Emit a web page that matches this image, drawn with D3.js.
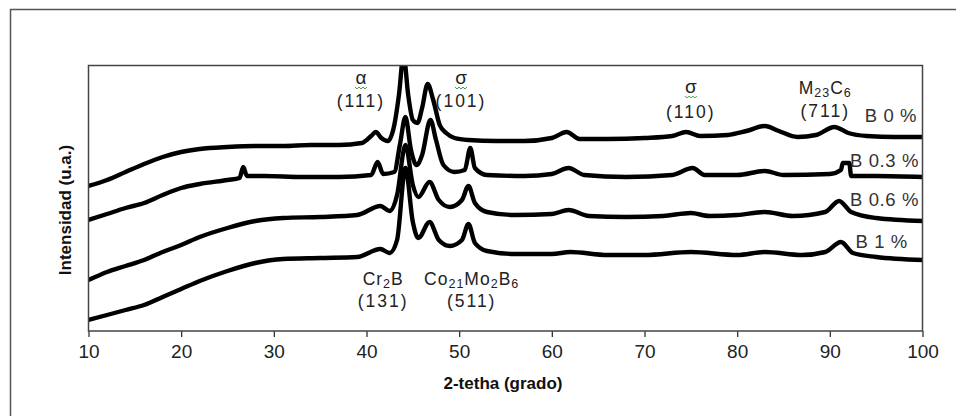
<!DOCTYPE html>
<html><head><meta charset="utf-8">
<script src="https://cdn.jsdelivr.net/npm/d3@7"></script>
<style>
body{margin:0;background:#fff;}
text{font-family:"Liberation Sans",Arial,sans-serif;}
</style></head>
<body><svg id="c" width="956" height="416"></svg>
<script>
// ---- data (2θ in degrees, intensity in arbitrary units) ----
const xTicks = [10,20,30,40,50,60,70,80,90,100];
const seriesNames = ["B 0 %","B 0.3 %","B 0.6 %","B 1 %"];
const b0 = [[10,145],[12,151],[14,159],[16,167],[18,174],[20,179],[22,182],[25,184],[28,185],[31,185],[34,186],[37,186],[39.5,188],[40.5,195],[41,199],[41.6,193],[42.3,190],[43,206],[43.5,236],[44,276],[44.5,236],[45,211],[45.5,208],[46,223],[46.6,247],[47.2,231],[47.9,206],[48.6,198],[49.5,193],[51,191],[54,190],[57,190],[60,193],[61.6,199],[63,192],[66,192],[70,193],[73,195],[74.5,199],[76,195],[79,196],[81,200],[83,205],[84.5,200],[86.5,194],[88.5,196],[90.5,204],[92,198],[94,195],[97,194],[100,194]];
const b03 = [[10,111],[12,117],[14,123],[16,128],[18,136],[20,143],[22,147],[25,151],[26.3,153],[26.7,164],[27.1,155],[29,155],[33,154],[37,154],[40.5,156],[41.2,169],[41.8,157],[43,159],[43.6,186],[44.2,214],[44.8,181],[45.4,166],[46,176],[46.9,211],[47.5,191],[48.3,166],[49.5,159],[50.6,161],[51.2,183],[51.7,163],[53,156],[57,155],[60,157],[61.8,163],[63.5,156],[68,154],[73,156],[75.2,163],[76.5,156],[80,156],[83,160],[85,156],[90,157],[91.2,161],[91.4,168],[92.1,168],[92.3,155],[95,155],[100,154]];
const b06 = [[10,51],[12,59],[14,65],[16,71],[18,79],[20,86],[22,94],[25,103],[28,110],[31,113],[35,114],[39,116],[41.5,125],[42.5,120],[43.3,136],[44.2,186],[45,146],[45.6,134],[46.8,149],[47.8,131],[49,124],[50.3,131],[51,145],[51.7,128],[53,119],[56,116],[60,117],[61.8,121],[64,115],[68,114],[72,115],[75,118],[77,115],[80,116],[83,119],[86,115],[89.5,119],[91,130],[92.3,119],[95,113],[100,110]];
const b1 = [[10,11],[12,16],[14,21],[16,26],[18,34],[20,42],[22,50],[25,60],[28,68],[31,72],[35,73],[39,74],[41.5,82],[42.5,78],[43.3,91],[44.2,163],[45,109],[45.6,93],[46.8,109],[47.8,91],[49,85],[50.3,91],[51,107],[51.7,88],[53,80],[56,77],[60,77],[62,79],[66,76],[70,76],[75,79],[80,76],[83,79],[87,76],[89.5,79],[91.2,89],[92.5,78],[95,74],[100,71]];
// peak labels: line 1, line 2, 2θ position, baselines (intensity units)
const peakLabels = [
  {l1:"α", l2:"(111)", x:39.4, y1:247, y2:224, green:true},
  {l1:"σ", l2:"(101)", x:50.2, y1:247, y2:224, green:true},
  {l1:"σ", l2:"(110)", x:75.0, y1:238, y2:213, green:true},
  {l1:"M23C6", l2:"(711)", x:89.5, y1:237, y2:214, green:false}
];
const bottomLabels = [
  {l1:"Cr2B", l2:"(131)", x:41.8, y1:46, y2:24},
  {l1:"Co21Mo2B6", l2:"(511)", x:51.35, y1:46, y2:24}
];
const seriesLabelPos = [[96.6,209],[95.9,164],[95.9,125],[95.6,83]];

// ---- drawing ----
const svg = d3.select("#c");
svg.append("rect").attr("x",0).attr("y",0).attr("width",956).attr("height",416).attr("fill","#fff");
svg.append("rect").attr("x",10.5).attr("y",9.5).attr("width",980).attr("height",440)
  .attr("fill","none").attr("stroke","#555").attr("stroke-width",1.5);

const L=88.5, R=922.5, T=65.5, B=331;
const x = d3.scaleLinear().domain([10,100]).range([L,R]);
const y = d3.scaleLinear().domain([0,265]).range([B,T+0.5]);

svg.append("defs").append("clipPath").attr("id","pc")
  .append("rect").attr("x",L).attr("y",T).attr("width",R-L).attr("height",B-T);

const line = d3.line().x(d=>x(d[0])).y(d=>y(d[1])).curve(d3.curveMonotoneX);
const g = svg.append("g").attr("clip-path","url(#pc)");
[b0,b03,b06,b1].forEach(s=>{
  g.append("path").datum(s).attr("d",line).attr("fill","none")
   .attr("stroke","#000").attr("stroke-width",4.4).attr("stroke-linejoin","round");
});

// axis
const ax = svg.append("g").attr("transform",`translate(0,${B})`)
  .call(d3.axisBottom(x).tickValues(xTicks).tickSize(6).tickPadding(8).tickFormat(d3.format("d")));
ax.select(".domain").remove();
ax.selectAll("line").attr("stroke","#333").attr("stroke-width",1.3);
ax.selectAll("text").attr("font-size",19).attr("fill","#222").attr("font-family","Liberation Sans, Arial, sans-serif");

svg.append("rect").attr("x",L).attr("y",T).attr("width",R-L).attr("height",B-T)
  .attr("fill","none").attr("stroke","#444").attr("stroke-width",1.5);

svg.append("text").attr("x",503).attr("y",389).attr("text-anchor","middle")
  .attr("font-size",17).attr("font-weight","bold").attr("fill","#111").text("2-tetha (grado)");
svg.append("text").attr("transform","translate(71,210) rotate(-90)").attr("text-anchor","middle")
  .attr("font-size",17).attr("font-weight","bold").attr("fill","#111").text("Intensidad (u.a.)");

function richText(sel, str){
  // digits after letters become subscripts
  const parts = str.match(/[A-Za-z]+|\d+/g);
  parts.forEach((p,i)=>{
    const isSub = /^\d+$/.test(p);
    const ts = sel.append("tspan").text(p);
    if(isSub){ ts.attr("font-size",12.5).attr("dy",2.5); }
    else if(i>0){ ts.attr("dy",-2.5); }
  });
}
const lab = svg.append("g").attr("fill","#222").attr("font-size",17.5);
peakLabels.concat(bottomLabels).forEach(p=>{
  const cx = x(p.x), y1 = y(p.y1), y2 = y(p.y2);
  const t1 = lab.append("text").attr("text-anchor","middle").attr("x",cx).attr("y",y1);
  if(/\d/.test(p.l1)){ t1.attr("letter-spacing",1); richText(t1,p.l1); } else t1.attr("font-size",19).text(p.l1);
  lab.append("text").attr("text-anchor","middle").attr("x",cx).attr("y",y2).attr("letter-spacing",2).text(p.l2);
  if(p.green){
    const cy = y1+3;
    let d = `M${cx-6},${cy}`;
    for(let i=0;i<6;i++){ d += ` l2,${i%2?-2:2}`; }
    lab.append("path").attr("d",d).attr("fill","none").attr("stroke","#3fa33f").attr("stroke-width",1);
  }
});
seriesNames.forEach((n,i)=>{
  lab.append("text").attr("x",x(seriesLabelPos[i][0])).attr("y",y(seriesLabelPos[i][1]))
    .attr("text-anchor","middle").attr("fill","#333").attr("font-size",18.5).attr("letter-spacing",0.6).text(n);
});
</script></body></html>
